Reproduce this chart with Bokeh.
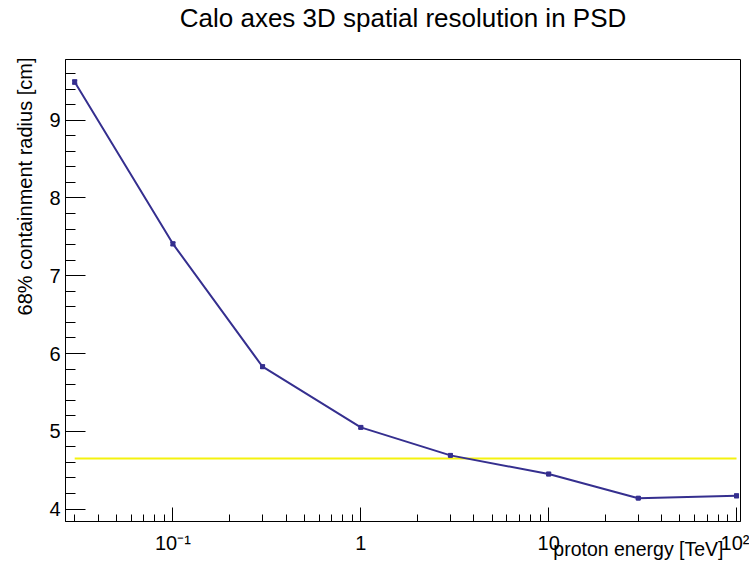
import numpy as np
from bokeh.plotting import figure
from bokeh.models import FixedTicker, Whisker, ColumnDataSource, TeeHead, Range1d, Title
from bokeh.embed import file_html
from bokeh.resources import INLINE

# data
energy = [0.03, 0.1, 0.3, 1, 3, 10, 30, 100]
radius = [9.49, 7.41, 5.83, 5.05, 4.69, 4.45, 4.14, 4.17]
radius_err = [0.025, 0.02, 0.02, 0.015, 0.015, 0.02, 0.015, 0.02]
ref_level = 4.65
ref_x = [0.03, 100]
x_major = [0.1, 1, 10, 100]
x_labels = {0.1: "10\u207b\u00b9", 1: "1", 10: "10", 100: "10\u00b2"}
y_major = [4, 5, 6, 7, 8, 9]

title_txt = "Calo axes 3D spatial resolution in PSD"
xlab = "proton energy [TeV]"
ylab = "68% containment radius [cm]"

FONT = "Liberation Sans"
LINE = "#352f8f"

W, H = 749, 565
p = figure(width=W, height=H, x_axis_type="log", output_backend="svg",
           toolbar_location=None, x_range=Range1d(0.0268, 105), y_range=Range1d(3.84, 9.78),
           min_border_left=62, min_border_right=9, min_border_top=58, min_border_bottom=44)
p.xgrid.visible = False
p.ygrid.visible = False
p.outline_line_color = "black"
p.outline_line_alpha = 1
p.outline_line_width = 1
p.background_fill_color = "white"
p.border_fill_color = "white"

x_minor = []
for d in [0.01, 0.1, 1, 10]:
    for k in range(2, 10):
        v = d * k
        if 0.0268 <= v <= 105:
            x_minor.append(v)
p.xaxis.ticker = FixedTicker(ticks=x_major, minor_ticks=x_minor)
p.xaxis.major_label_overrides = x_labels
y_minor = [round(3.8 + 0.2 * i, 2) for i in range(31)]
p.yaxis.ticker = FixedTicker(ticks=y_major, minor_ticks=y_minor)

for ax in (p.xaxis[0], p.yaxis[0]):
    ax.axis_line_color = "black"
    ax.major_tick_line_color = "black"
    ax.minor_tick_line_color = "black"
    ax.major_tick_out = 0
    ax.minor_tick_out = 0
    ax.major_label_text_font = FONT
    ax.major_label_text_font_size = "20px"
    ax.major_label_text_color = "black"
p.xaxis.major_tick_in = 14
p.xaxis.minor_tick_in = 7
p.yaxis.major_tick_in = 20
p.yaxis.minor_tick_in = 10
p.xaxis.major_label_standoff = 10
p.yaxis.major_label_standoff = 5

src = ColumnDataSource(dict(x=energy, y=radius,
                            lo=[r - e for r, e in zip(radius, radius_err)],
                            hi=[r + e for r, e in zip(radius, radius_err)]))

p.line(ref_x, [ref_level, ref_level], line_color="#f4f20e", line_width=2)
p.line("x", "y", source=src, line_color=LINE, line_width=2)
w = Whisker(base="x", lower="lo", upper="hi", source=src, line_color=LINE, line_width=1.5,
            upper_head=TeeHead(size=5, line_color=LINE, line_width=1.5),
            lower_head=TeeHead(size=5, line_color=LINE, line_width=1.5))
p.add_layout(w)
p.scatter("x", "y", source=src, marker="square", size=4, color=LINE)

# spacer between frame and title
spacer = Title(text=" ", text_font_size="1px", standoff=24)
p.add_layout(spacer, "above")
p.title.text = title_txt
p.title.align = "center"
p.title.text_font = FONT
p.title.text_font_size = "26px"
p.title.text_font_style = "normal"
p.title.text_color = "black"
p.title.standoff = 0

yl = Title(text=ylab, align="right", text_font=FONT, text_font_size="20px",
           text_font_style="normal", text_color="black", standoff=22, offset=-2)
p.add_layout(yl, "left")

xl = Title(text=xlab, align="right", vertical_align="top", text_font=FONT,
           text_font_size="19.5px", text_font_style="normal", text_color="black",
           standoff=-37, offset=17)
p.add_layout(xl, "below")

open("out.html", "w").write(file_html(p, INLINE))
